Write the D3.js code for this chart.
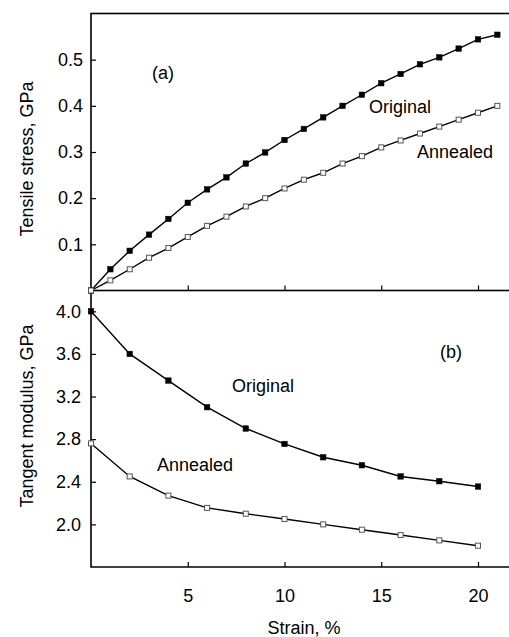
<!DOCTYPE html>
<html>
<head>
<meta charset="utf-8">
<script src="https://cdn.jsdelivr.net/npm/d3@7"></script>
<style>
  body { margin: 0; background: #fff; }
  text { font-family: "Liberation Sans", Arial, sans-serif; }
</style>
</head>
<body>
<div id="chart-area"></div>
<script>
// panel (a): tensile stress vs strain, 1% steps
var strainA = d3.range(0, 22);
var stressOriginal = [0, 0.046, 0.086, 0.121, 0.155, 0.190, 0.219, 0.245, 0.275, 0.299, 0.326,
                      0.350, 0.375, 0.400, 0.424, 0.449, 0.469, 0.490, 0.505, 0.524, 0.544, 0.554];
var stressAnnealed = [0, 0.022, 0.046, 0.071, 0.092, 0.116, 0.140, 0.160, 0.182, 0.200, 0.221,
                      0.240, 0.255, 0.275, 0.291, 0.310, 0.325, 0.340, 0.355, 0.370, 0.385, 0.400];

// panel (b): tangent modulus vs strain, 2% steps
var strainB = [0, 2, 4, 6, 8, 10, 12, 14, 16, 18, 20];
var modulusOriginal = [4.00, 3.60, 3.35, 3.10, 2.90, 2.755, 2.63, 2.555, 2.45, 2.405, 2.355];
var modulusAnnealed = [2.76, 2.45, 2.27, 2.155, 2.10, 2.05, 2.00, 1.95, 1.90, 1.85, 1.80];

var xTicks = [5, 10, 15, 20];
var stressTicks = [0.1, 0.2, 0.3, 0.4, 0.5];
var modulusTicks = [2.0, 2.4, 2.8, 3.2, 3.6, 4.0];

var width = 509, height = 637;
var left = 91;

var svg = d3.select("#chart-area")
  .append("svg")
    .attr("width", width)
    .attr("height", height);

var x = d3.scaleLinear().domain([0, 22]).range([left, left + 22 * 19.35]);
var yA = d3.scaleLinear().domain([0, 0.6]).range([290.5, 13.5]);
var yB = d3.scaleLinear().domain([1.6, 4.2]).range([567, 290]);

// frames
svg.append("rect")
  .attr("x", left).attr("y", yA(0.6))
  .attr("width", x(22) - left).attr("height", yA(0) - yA(0.6))
  .attr("fill", "none").attr("stroke", "#000").attr("stroke-width", 1.6);

svg.append("path")
  .attr("d", "M" + left + "," + yB(4.2) + "V" + yB(1.6) + "H" + x(22))
  .attr("fill", "none").attr("stroke", "#000").attr("stroke-width", 1.6);

// axes
function styleAxis(g) {
  g.select(".domain").remove();
  g.selectAll(".tick line").attr("stroke", "#000").attr("stroke-width", 1.2);
  g.selectAll(".tick text").attr("fill", "#000").attr("font-size", "18px");
}

svg.append("g")
  .attr("transform", "translate(0," + yA(0) + ")")
  .call(d3.axisBottom(x).tickValues(xTicks).tickSize(-5).tickFormat(""))
  .call(styleAxis);

svg.append("g")
  .attr("transform", "translate(0," + yB(1.6) + ")")
  .call(d3.axisBottom(x).tickValues(xTicks).tickSize(-5).tickPadding(22).tickFormat(d3.format("d")))
  .call(styleAxis);

svg.append("g")
  .attr("transform", "translate(" + left + ",0)")
  .call(d3.axisLeft(yA).tickValues(stressTicks).tickSize(-5).tickPadding(8).tickFormat(d3.format(".1f")))
  .call(styleAxis);

svg.append("g")
  .attr("transform", "translate(" + left + ",0)")
  .call(d3.axisLeft(yB).tickValues(modulusTicks).tickSize(-5).tickPadding(10).tickFormat(d3.format(".1f")))
  .call(styleAxis);

// axis titles
svg.append("text")
  .attr("transform", "translate(33," + 159 + ") rotate(-90)")
  .attr("text-anchor", "middle").attr("font-size", "18px")
  .text("Tensile stress, GPa");

svg.append("text")
  .attr("transform", "translate(33," + 416 + ") rotate(-90)")
  .attr("text-anchor", "middle").attr("font-size", "18px")
  .text("Tangent modulus, GPa");

svg.append("text")
  .attr("x", 304).attr("y", 634)
  .attr("text-anchor", "middle").attr("font-size", "18px")
  .text("Strain, %");

// series
function drawSeries(xs, ys, yScale, filled) {
  var pts = xs.map(function(d, i) { return [d, ys[i]]; });
  svg.append("path")
    .datum(pts)
    .attr("fill", "none")
    .attr("stroke", "#000")
    .attr("stroke-width", 1.4)
    .attr("d", d3.line().x(function(d) { return x(d[0]); }).y(function(d) { return yScale(d[1]); }));
  var s = filled ? 5.5 : 5;
  svg.append("g").selectAll("rect")
    .data(pts)
    .enter().append("rect")
      .attr("x", function(d) { return x(d[0]) - s / 2; })
      .attr("y", function(d) { return yScale(d[1]) - s / 2; })
      .attr("width", s).attr("height", s)
      .attr("fill", filled ? "#000" : "#fff")
      .attr("stroke", filled ? "#000" : "#555")
      .attr("stroke-width", filled ? 0.5 : 1);
}

drawSeries(strainA, stressOriginal, yA, true);
drawSeries(strainA, stressAnnealed, yA, false);
drawSeries(strainB, modulusOriginal, yB, true);
drawSeries(strainB, modulusAnnealed, yB, false);

// labels
var labelsA = [
  { text: "(a)", x: 3.15, y: 0.459 },
  { text: "Original", x: 14.37, y: 0.384 },
  { text: "Annealed", x: 16.85, y: 0.286 }
];
var labelsB = [
  { text: "(b)", x: 18.04, y: 3.56 },
  { text: "Original", x: 7.29, y: 3.245 },
  { text: "Annealed", x: 3.41, y: 2.503 }
];

svg.append("g").selectAll("text")
  .data(labelsA)
  .enter().append("text")
    .attr("x", function(d) { return x(d.x); })
    .attr("y", function(d) { return yA(d.y); })
    .attr("font-size", "18px")
    .text(function(d) { return d.text; });

svg.append("g").selectAll("text")
  .data(labelsB)
  .enter().append("text")
    .attr("x", function(d) { return x(d.x); })
    .attr("y", function(d) { return yB(d.y); })
    .attr("font-size", "18px")
    .text(function(d) { return d.text; });
</script>
</body>
</html>
